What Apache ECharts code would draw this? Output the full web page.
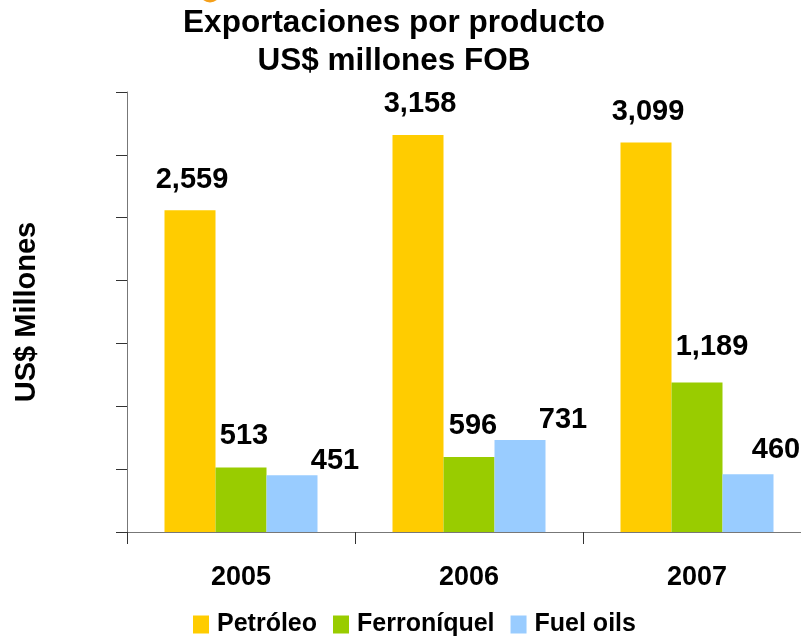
<!DOCTYPE html>
<html>
<head>
<meta charset="utf-8">
<script src="https://cdn.jsdelivr.net/npm/echarts@6/dist/echarts.min.js"></script>
<style>html,body{margin:0;padding:0;background:#fff;overflow:hidden;}#c{width:830px;height:637px;}</style>
</head>
<body>
<div id="c"></div>
<script>
const categories = ['2005', '2006', '2007'];
const petroleo = [2559, 3158, 3099];
const ferroniquel = [513, 596, 1189];
const fuelOils = [451, 731, 460];
const seriesNames = ['Petróleo', 'Ferroníquel', 'Fuel oils'];
const yMax = 3500, yInterval = 500;

// label offsets (placement only)
const offPetro = [[2, -11], [2, -11], [2, -11]];
const offFerro = [[3, -12], [4, -12], [15, -16]];
const offFuel = [[43, 5], [43, -1], [28, -5]];

const FONT = 'Liberation Sans, Arial, sans-serif';
const fmt = v => v.toLocaleString('en-US');

function mkData(vals, offs) {
  return vals.map((v, i) => ({ value: v, label: { offset: offs[i] } }));
}
function mkSeries(name, vals, offs, color) {
  return {
    name: name, type: 'bar', barWidth: 51, barGap: '0%',
    itemStyle: { color: color },
    label: {
      show: true, position: 'top', distance: 5,
      formatter: p => fmt(p.value),
      fontFamily: FONT, fontWeight: 'bold', fontSize: 29, color: '#000'
    },
    data: mkData(vals, offs)
  };
}

const chart = echarts.init(document.getElementById('c'), null, { renderer: 'canvas' });
chart.setOption({
  animation: false,
  backgroundColor: '#fff',
  title: {
    text: 'Exportaciones por producto\nUS$ millones FOB',
    left: 394, top: 4, padding: 0, textAlign: 'center',
    textStyle: { fontFamily: FONT, fontWeight: 'bold', fontSize: 31.5, lineHeight: 38, color: '#000' }
  },
  graphic: [{ type: 'circle', shape: { cx: 210, cy: -8, r: 10.5 }, style: { fill: '#F5A01A' } }],
  legend: {
    data: seriesNames, left: 193, top: 612, padding: 0,
    itemWidth: 16, itemHeight: 18, itemGap: 16, icon: 'rect',
    textStyle: { fontFamily: FONT, fontWeight: 'bold', fontSize: 25, color: '#000', padding: [0, 0, 0, 3] }
  },
  grid: { left: 127, top: 92, width: 684, bottom: 105, containLabel: false },
  xAxis: {
    type: 'category', data: categories,
    axisLine: { show: true, lineStyle: { color: '#777', width: 1 } },
    axisTick: { show: true, length: 12, alignWithLabel: false, lineStyle: { color: '#333' } },
    axisLabel: { fontFamily: FONT, fontWeight: 'bold', fontSize: 27, color: '#000', margin: 32 }
  },
  yAxis: {
    type: 'value', min: 0, max: yMax, interval: yInterval,
    name: 'US$ Millones', nameLocation: 'middle', nameRotate: 90, nameGap: 86,
    nameTextStyle: { fontFamily: FONT, fontWeight: 'bold', fontSize: 29, color: '#000' },
    axisLine: { show: true, lineStyle: { color: '#777', width: 1 } },
    axisTick: { show: true, length: 11, inside: false, lineStyle: { color: '#333' } },
    axisLabel: { show: false },
    splitLine: { show: false }
  },
  series: [
    mkSeries(seriesNames[0], petroleo, offPetro, '#FFCC00'),
    mkSeries(seriesNames[1], ferroniquel, offFerro, '#99CC00'),
    mkSeries(seriesNames[2], fuelOils, offFuel, '#99CCFF')
  ]
});
</script>
</body>
</html>
